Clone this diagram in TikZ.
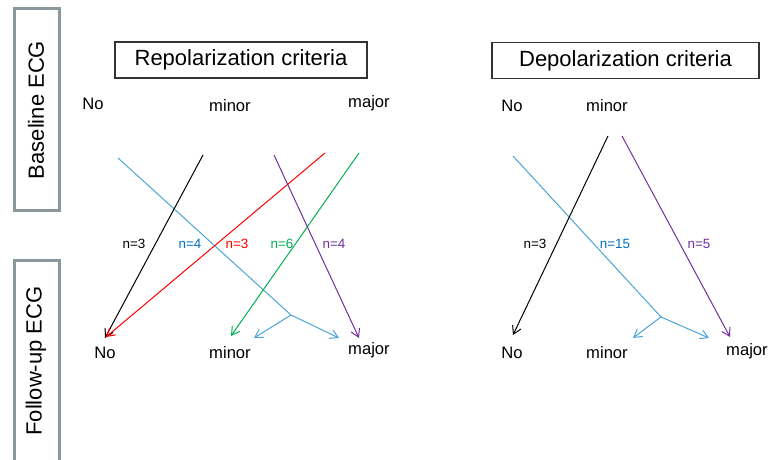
\documentclass[tikz,border=0pt]{standalone}
\usepackage{fontspec}
\setmainfont{Liberation Sans}
\usetikzlibrary{arrows.meta}
\definecolor{flowblue}{RGB}{75,165,215}
\definecolor{countblue}{RGB}{0,112,192}
\definecolor{flowred}{RGB}{255,0,0}
\definecolor{flowgreen}{RGB}{0,176,80}
\definecolor{flowpurple}{RGB}{112,48,160}
\definecolor{panelgray}{RGB}{138,152,158}

\begin{document}
\begin{tikzpicture}[x=0.5pt, y=-0.5pt,
	titlebox/.style = {draw=black!80, line width=0.7pt, minimum height=18pt, inner sep=0pt, font=\fontsize{11}{13}\selectfont},
	grade/.style = {font=\fontsize{8.3}{10}\selectfont},
	count/.style = {font=\fontsize{6.7}{8}\selectfont},
	flow/.style = {line width=0.5pt, -{Straight Barb[length=3.9pt, width=4.6pt]}}]
	\useasboundingbox (0,0) rectangle (768,460);
	% side panels
	\draw[panelgray, line width=1.5pt] (14,9) rectangle (59,211);
	\draw[panelgray, line width=1.5pt] (14,261) rectangle (59,480);
	\node[rotate=90, font=\fontsize{11}{13}\selectfont] (base) at (36,110) {Baseline ECG};
	\node[rotate=90, font=\fontsize{11}{13}\selectfont] (follow) at (36,361) {Follow-up ECG};
	% titles
	\node[titlebox, minimum width=126pt] (repol) at (241,60) {Repolarization criteria};
	\node[titlebox, minimum width=133.5pt] (depol) at (625.5,60.5) {Depolarization criteria};
	% grade labels, repolarization
	\node[grade] (rNoA) at (93,104) {No};
	\node[grade] (rMinA) at (230,106) {minor};
	\node[grade] (rMajA) at (369,103) {major};
	\node[grade] (rNoB) at (105,353) {No};
	\node[grade] (rMinB) at (230,353) {minor};
	\node[grade] (rMajB) at (369,350) {major};
	% grade labels, depolarization
	\node[grade] (dNoA) at (512,106) {No};
	\node[grade] (dMinA) at (607,106) {minor};
	\node[grade] (dNoB) at (512,353) {No};
	\node[grade] (dMinB) at (607,353) {minor};
	\node[grade] (dMajB) at (747,351) {major};
%
	\coordinate (rBlueS) at (118,158);
	\coordinate (rBlueM) at (291,315);
	\coordinate (rBlueA) at (254,338);
	\coordinate (rBlueB) at (339,338);
	\coordinate (rBlackS) at (203,155);
	\coordinate (rBlackE) at (105,338);
	\coordinate (rRedS) at (325,153);
	\coordinate (rRedE) at (106,337);
	\coordinate (rGreenS) at (359,153);
	\coordinate (rGreenE) at (231,336);
	\coordinate (rPurpS) at (274,155);
	\coordinate (rPurpE) at (359,338);
	\draw[flowblue, line width=0.5pt] (rBlueS) -- (rBlueM);
	\draw[flow, flowblue] (rBlueM) -- (rBlueA);
	\draw[flow, flowblue] (rBlueM) -- (rBlueB);
	\draw[flow, black] (rBlackS) -- (rBlackE);
	\draw[flow, flowred] (rRedS) -- (rRedE);
	\draw[flow, flowgreen] (rGreenS) -- (rGreenE);
	\draw[flow, flowpurple] (rPurpS) -- (rPurpE);
	\node[count, black] (rN1) at (134,244) {n=3};
	\node[count, countblue] (rN2) at (190,244) {n=4};
	\node[count, flowred] (rN3) at (237,244) {n=3};
	\node[count, flowgreen] (rN4) at (282,244) {n=6};
	\node[count, flowpurple] (rN5) at (334,244) {n=4};
%
	\coordinate (dBlueS) at (513,156);
	\coordinate (dBlueM) at (661,317);
	\coordinate (dBlueA) at (633,338);
	\coordinate (dBlueB) at (709,338);
	\coordinate (dBlackS) at (608,136);
	\coordinate (dBlackE) at (513,335);
	\coordinate (dPurpS) at (622,136);
	\coordinate (dPurpE) at (730,337);
	\draw[flowblue, line width=0.5pt] (dBlueS) -- (dBlueM);
	\draw[flow, flowblue] (dBlueM) -- (dBlueA);
	\draw[flow, flowblue] (dBlueM) -- (dBlueB);
	\draw[flow, black] (dBlackS) -- (dBlackE);
	\draw[flow, flowpurple] (dPurpS) -- (dPurpE);
	\node[count, black] (dN1) at (535,244) {n=3};
	\node[count, countblue] (dN2) at (615,244) {n=15};
	\node[count, flowpurple] (dN3) at (699,244) {n=5};
\end{tikzpicture}
\end{document}
